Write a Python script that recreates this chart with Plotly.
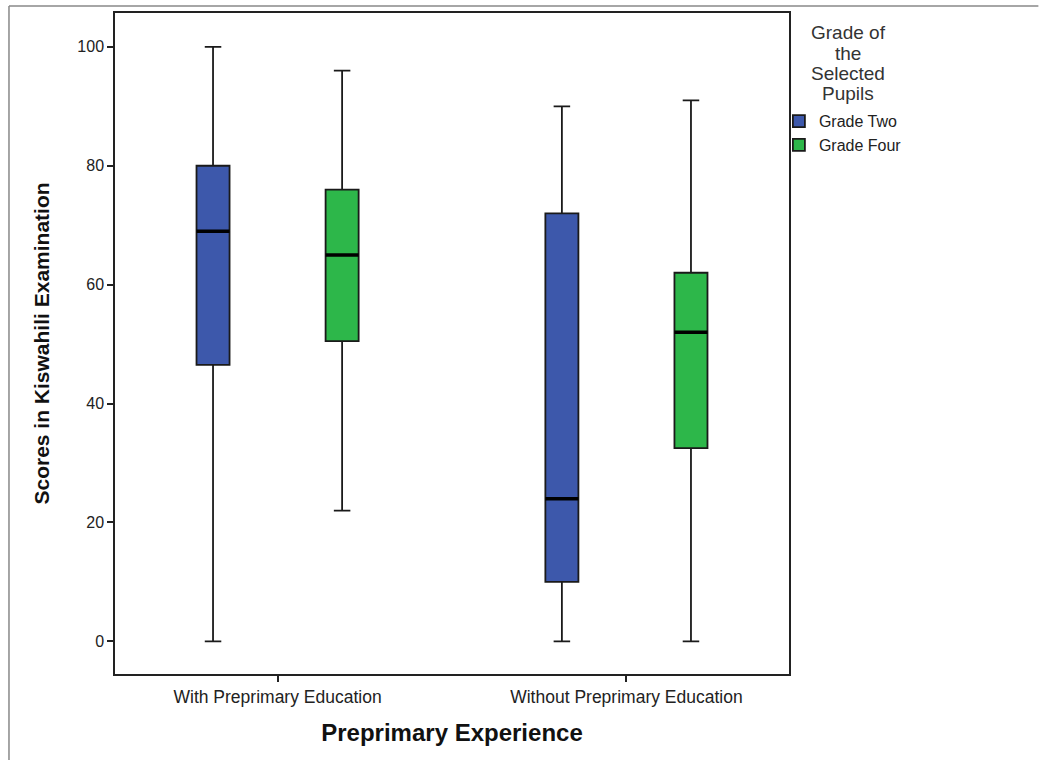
import plotly.graph_objects as go

categories = ["With Preprimary Education", "Without Preprimary Education"]
groups = ["Grade Two", "Grade Four"]
colors = ["#3D58AB", "#2DB74A"]
legend_title_lines = ["Grade of", "the", "Selected", "Pupils"]

# five-number summaries per grade, one value per category
mins = {"Grade Two": [0, 0], "Grade Four": [22, 0]}
q1s = {"Grade Two": [46.5, 10], "Grade Four": [50.5, 32.5]}
medians = {"Grade Two": [69, 24], "Grade Four": [65, 52]}
q3s = {"Grade Two": [80, 72], "Grade Four": [76, 62]}
maxs = {"Grade Two": [100, 90], "Grade Four": [96, 91]}

y_ticks = [0, 20, 40, 60, 80, 100]

fig = go.Figure()
for g, c in zip(groups, colors):
    fig.add_trace(go.Box(
        name=g, x=categories, offsetgroup=g, legendgroup=g,
        lowerfence=mins[g], q1=q1s[g], median=medians[g], q3=q3s[g], upperfence=maxs[g],
        fillcolor=c, line=dict(color="#1a1a1a", width=1.8), whiskerwidth=0.5,
        boxpoints=False, hoverinfo="skip",
    ))
for g in groups:
    fig.add_trace(go.Box(
        name=g + " median", x=categories, offsetgroup=g, legendgroup=g, showlegend=False,
        lowerfence=medians[g], q1=medians[g], median=medians[g], q3=medians[g], upperfence=medians[g],
        fillcolor="rgba(0,0,0,0)", line=dict(color="black", width=3.5), whiskerwidth=0,
        boxpoints=False, hoverinfo="skip",
    ))

font_family = "Liberation Sans, Arial, sans-serif"
fig.update_layout(
    width=1042, height=760,
    margin=dict(l=115, r=253, t=11, b=86),
    paper_bgcolor="white", plot_bgcolor="white",
    boxmode="group", boxgap=0.26, boxgroupgap=0.744,
    font=dict(family=font_family, color="#222", size=16),
    legend=dict(
        x=0.985, y=0.862, xanchor="left", yanchor="top",
        font=dict(size=16, color="#222"),
        itemwidth=30, tracegroupgap=0,
        bgcolor="rgba(0,0,0,0)",
    ),
    xaxis=dict(
        range=[-0.466, 1.466], showgrid=False, zeroline=False,
        showline=True, linecolor="#222", linewidth=1.5, mirror=True,
        ticks="outside", ticklen=6, tickcolor="#222", tickwidth=1.5,
        tickfont=dict(size=17.5, color="#222"),
        title=dict(text="<b>Preprimary Experience</b>", font=dict(size=24, color="#111"), standoff=18),
    ),
    yaxis=dict(
        range=[-5.5, 105.7], tickvals=y_ticks, showgrid=False, zeroline=False,
        showline=True, linecolor="#222", linewidth=1.5, mirror=True,
        ticks="outside", ticklen=6, tickcolor="#222", tickwidth=1.5,
        tickfont=dict(size=16, color="#222"),
        title=dict(text="<b>Scores in Kiswahili Examination</b>", font=dict(size=21, color="#111"), standoff=22),
    ),
)

# legend title, centred line by line
title_y_px = [31, 51.5, 72, 92]
for line, ypx in zip(legend_title_lines, title_y_px):
    fig.add_annotation(text=line, xref="paper", yref="paper",
                       x=(848 - 115) / 674, y=1 + (11 - ypx) / 663,
                       xanchor="center", yanchor="middle", showarrow=False,
                       font=dict(size=19, color="#333"))

# outer frame (left and top edges)
fig.add_shape(type="line", xref="paper", yref="paper", x0=-0.1573, x1=-0.1573, y0=-0.2, y1=1.0106,
              line=dict(color="#888", width=1.5))
fig.add_shape(type="line", xref="paper", yref="paper", x0=-0.1573, x1=1.37, y0=1.0106, y1=1.0106,
              line=dict(color="#888", width=1.5))

fig.write_html("out.html", config={"displayModeBar": False},
               post_script="document.body.style.margin='0';")
